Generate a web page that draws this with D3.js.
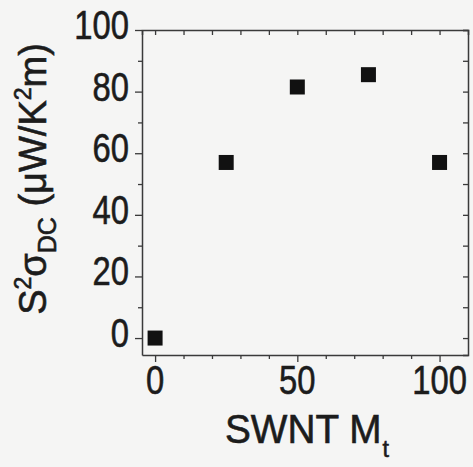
<!DOCTYPE html>
<html>
<head>
<meta charset="utf-8">
<script src="https://cdn.jsdelivr.net/npm/d3@7"></script>
<style>
  body { margin: 0; background: #f5f5f4; }
  text { font-family: "Liberation Sans", Arial, sans-serif; fill: #1c1c1c; stroke: #1c1c1c; stroke-width: 0.6; }
</style>
</head>
<body>
<script>

// data
var swntMt = [0, 25, 50, 75, 100];
var powerFactor = [0, 57, 81.5, 85.5, 57];

var xTickLabels = [0, 50, 100];
var yTickLabels = [0, 20, 40, 60, 80, 100];
var xMinorTicks = [0, 10, 20, 30, 40, 50, 60, 70, 80, 90, 100];
var yMinorTicks = [0, 10, 20, 30, 40, 50, 60, 70, 80, 90, 100];

var width = 473, height = 467;
// note: "top" is taken by window.top, so prefix these
var plotLeft = 142, plotTop = 30, plotRight = 468, plotBottom = 355;

var svg = d3.select("body").append("svg")
    .attr("width", width)
    .attr("height", height);

svg.append("rect")
    .attr("width", width)
    .attr("height", height)
    .attr("fill", "#f5f5f4");

var x = d3.scaleLinear().domain([-4.6, 110]).range([plotLeft, plotRight]);
var y = d3.scaleLinear().domain([-5.5, 100]).range([plotBottom, plotTop]);

// axes: left & bottom ticks point out, top & right point in
function styleAxis(g) {
    g.select(".domain").attr("stroke", "#3a3a3a").attr("stroke-width", 1.5);
    g.selectAll(".tick line").attr("stroke", "#3a3a3a").attr("stroke-width", 1.3);
}

svg.append("g")
    .attr("transform", "translate(" + plotLeft + ",0)")
    .call(d3.axisLeft(y).tickValues(yMinorTicks).tickFormat("").tickSizeOuter(0))
    .call(styleAxis)
    .selectAll(".tick line")
    .attr("x2", function(d) { return d % 20 == 0 ? -7 : -4 });

svg.append("g")
    .attr("transform", "translate(0," + plotBottom + ")")
    .call(d3.axisBottom(x).tickValues(xMinorTicks).tickFormat("").tickSizeOuter(0))
    .call(styleAxis)
    .selectAll(".tick line")
    .attr("y2", function(d) { return d % 50 == 0 ? 7 : 4 });

svg.append("g")
    .attr("transform", "translate(0," + plotTop + ")")
    .call(d3.axisTop(x).tickValues(xMinorTicks).tickFormat("").tickSizeOuter(0).tickSize(-5))
    .call(styleAxis);

svg.append("g")
    .attr("transform", "translate(" + plotRight + ",0)")
    .call(d3.axisRight(y).tickValues(yMinorTicks).tickFormat("").tickSizeOuter(0).tickSize(-5))
    .call(styleAxis);

// tick labels (narrow type)
svg.selectAll(".ylab")
    .data(yTickLabels)
    .enter().append("text")
    .attr("class", "ylab")
    .attr("text-anchor", "end")
    .attr("font-size", 40)
    .attr("transform", function(d) { return "translate(129," + (y(d) + 9) + ") scale(0.82,1)" })
    .text(function(d) { return d });

svg.selectAll(".xlab")
    .data(xTickLabels)
    .enter().append("text")
    .attr("class", "xlab")
    .attr("text-anchor", "middle")
    .attr("font-size", 40)
    .attr("transform", function(d) { return "translate(" + x(d) + ",394) scale(0.82,1)" })
    .text(function(d) { return d });

// points
svg.selectAll(".pt")
    .data(swntMt)
    .enter().append("rect")
    .attr("class", "pt")
    .attr("width", 15)
    .attr("height", 15)
    .attr("x", function(d) { return x(d) - 7.5 })
    .attr("y", function(d, i) { return y(powerFactor[i]) - 7.5 })
    .attr("fill", "#111");

// axis titles
var xt = svg.append("text")
    .attr("text-anchor", "middle")
    .attr("font-size", 40)
    .attr("transform", "translate(307,443) scale(0.97,1)");
xt.append("tspan").text("SWNT M");
xt.append("tspan").attr("font-size", 24).attr("dy", 14).attr("dx", 1).text("t");

var yt = svg.append("text")
    .attr("text-anchor", "middle")
    .attr("font-size", 38)
    .attr("transform", "translate(46,179) rotate(-90)");
yt.append("tspan").text("S");
yt.append("tspan").attr("font-size", 23).attr("dy", -15).text("2");
yt.append("tspan").attr("dy", 15).text("σ");
yt.append("tspan").attr("font-size", 25).attr("dy", 10).text("DC");
yt.append("tspan").attr("dy", -10).text(" (μW/K");
yt.append("tspan").attr("font-size", 23).attr("dy", -15).text("2");
yt.append("tspan").attr("dy", 15).text("m)");

</script>
</body>
</html>
